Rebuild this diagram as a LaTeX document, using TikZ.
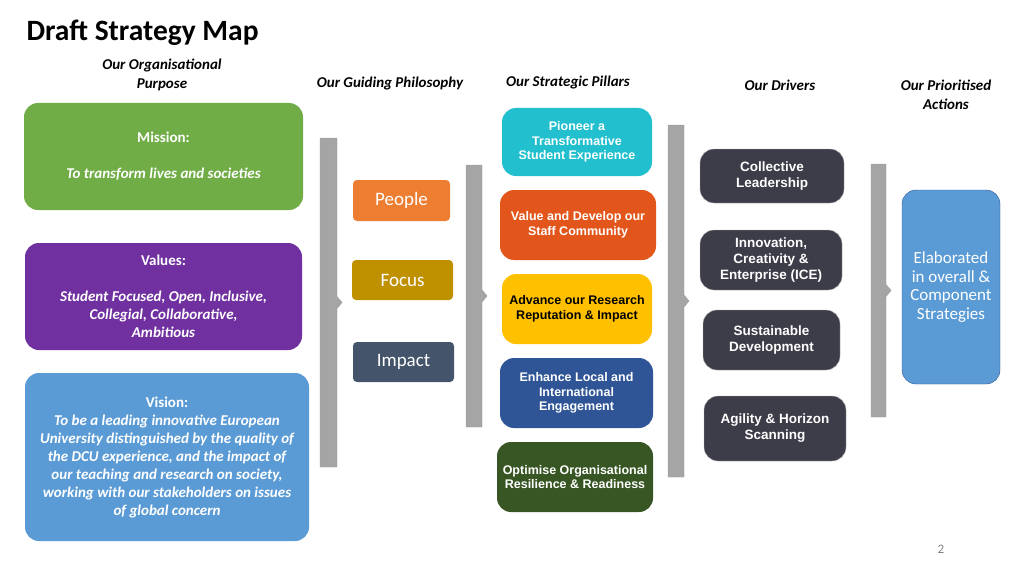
\documentclass[tikz,border=0pt]{standalone}
\usepackage{fontspec}
\setmainfont{Carlito}
\newfontfamily\arialfont{Liberation Sans}
\usetikzlibrary{positioning}
\definecolor{cgreen}{HTML}{70AD47}
\definecolor{cpurple}{HTML}{7030A0}
\definecolor{cblue}{HTML}{5B9BD5}
\definecolor{corange}{HTML}{ED7D31}
\definecolor{cgold}{HTML}{BF9000}
\definecolor{cslate}{HTML}{44546A}
\definecolor{cteal}{HTML}{22BFCE}
\definecolor{cred}{HTML}{E2561C}
\definecolor{cyellow}{HTML}{FFC000}
\definecolor{cnavy}{HTML}{2F5597}
\definecolor{cdkgreen}{HTML}{375623}
\definecolor{cdark}{HTML}{3D3D49}
\definecolor{cbar}{HTML}{A5A5A5}
\tikzset{
  box/.style={rounded corners=14pt, text=white, align=center, inner sep=2pt},
  pillar/.style={box, font=\arialfont\bfseries\fontsize{12.5}{14.5}\selectfont},
  driver/.style={box, fill=cdark, draw=gray!60, font=\arialfont\bfseries\fontsize{13.5}{16}\selectfont},
  head/.style={font=\bfseries\itshape\fontsize{15}{19}\selectfont, align=center},
  bar/.style={fill=cbar, draw=gray!80, line width=0.4pt}
}
\newcommand{\barrow}[4]{% x1, x2, top, bottom
  \draw[bar] (#1,#3) -- (#2,#3) -- (#2,{(#3+#4)/2-6}) -- ({#2+5},{(#3+#4)/2}) -- (#2,{(#3+#4)/2+6}) -- (#2,#4) -- (#1,#4) -- cycle;}
\begin{document}
\begin{tikzpicture}[x=1pt,y=-1pt]
\useasboundingbox (0,0) rectangle (1024,575);
\node[anchor=west, font=\bfseries\fontsize{29.5}{34}\selectfont] (title) at (23,33) {Draft Strategy Map};
% headers
\node[head] (h1) at (162,75) {Our Organisational\\Purpose};
\node[head] (h2) at (390,84) {Our Guiding Philosophy};
\node[head] (h3) at (568,83) {Our Strategic Pillars};
\node[head] (h4) at (780,85) {Our Drivers};
\node[head] (h5) at (946,95) {Our Prioritised\\Actions};
% purpose
\node[box, fill=cgreen, minimum width=279pt, minimum height=107pt, font=\bfseries\fontsize{15}{18}\selectfont] (mission) at (163.5,156.5)
  {Mission:\\[18pt]\itshape To transform lives and societies};
\node[box, fill=cpurple, minimum width=277pt, minimum height=107pt, font=\bfseries\fontsize{15}{18}\selectfont] (values) at (163.5,296.5)
  {Values:\\[18pt]\itshape Student Focused, Open, Inclusive,\\\itshape Collegial, Collaborative,\\\itshape Ambitious};
\node[box, fill=cblue, minimum width=284pt, minimum height=168pt, font=\bfseries\fontsize{15}{18}\selectfont] (vision) at (167,457)
  {Vision:\\\itshape To be a leading innovative European\\\itshape University distinguished by the quality of\\\itshape the DCU experience, and the impact of\\\itshape our teaching and research on society,\\\itshape working with our stakeholders on issues\\\itshape of global concern};
% philosophy
\node[box, rounded corners=4pt, fill=corange, minimum width=97pt, minimum height=41pt, font=\fontsize{19}{22}\selectfont] (people) at (401.5,200.5) {People};
\node[box, rounded corners=4pt, fill=cgold, minimum width=101pt, minimum height=40pt, font=\fontsize{19}{22}\selectfont] (focus) at (402.5,280) {Focus};
\node[box, rounded corners=4pt, fill=cslate, minimum width=101pt, minimum height=40pt, font=\fontsize{19}{22}\selectfont] (impact) at (403.5,362) {Impact};
% pillars
\node[pillar, fill=cteal, minimum width=150pt, minimum height=68pt] (pioneer) at (577,142) {Pioneer a\\Transformative\\Student Experience};
\node[pillar, fill=cred, minimum width=156pt, minimum height=70pt] (staff) at (578,225) {Value and Develop our\\Staff Community};
\node[pillar, fill=cyellow, text=black, minimum width=150pt, minimum height=70pt] (research) at (577,309) {Advance our Research\\Reputation \& Impact};
\node[pillar, fill=cnavy, minimum width=153pt, minimum height=70pt] (engage) at (576.5,393) {Enhance Local and\\International\\Engagement};
\node[pillar, fill=cdkgreen, minimum width=156pt, minimum height=70pt] (resil) at (575,477) {Optimise Organisational\\Resilience \& Readiness};
% drivers
\node[driver, minimum width=144pt, minimum height=54pt] (lead) at (772,176) {Collective\\Leadership};
\node[driver, minimum width=142pt, minimum height=60pt] (ice) at (771,260) {Innovation,\\Creativity \&\\Enterprise (ICE)};
\node[driver, minimum width=137pt, minimum height=60pt] (sust) at (771.5,340) {Sustainable\\Development};
\node[driver, minimum width=142pt, minimum height=65pt] (agile) at (775,428.5) {Agility \& Horizon\\Scanning};
% actions
\node[box, fill=cblue, draw=cnavy, minimum width=98pt, minimum height=194pt, font=\fontsize{17}{18.5}\selectfont] (actions) at (951,287)
  {Elaborated\\in overall \&\\Component\\Strategies};
% bars
\barrow{320}{337}{138}{467}
\barrow{466}{482}{165}{427}
\barrow{668}{684}{125}{477}
\barrow{871}{886}{164}{417}
\node[text=gray, font=\fontsize{13}{15}\selectfont] (page) at (941,549) {2};
\end{tikzpicture}
\end{document}
